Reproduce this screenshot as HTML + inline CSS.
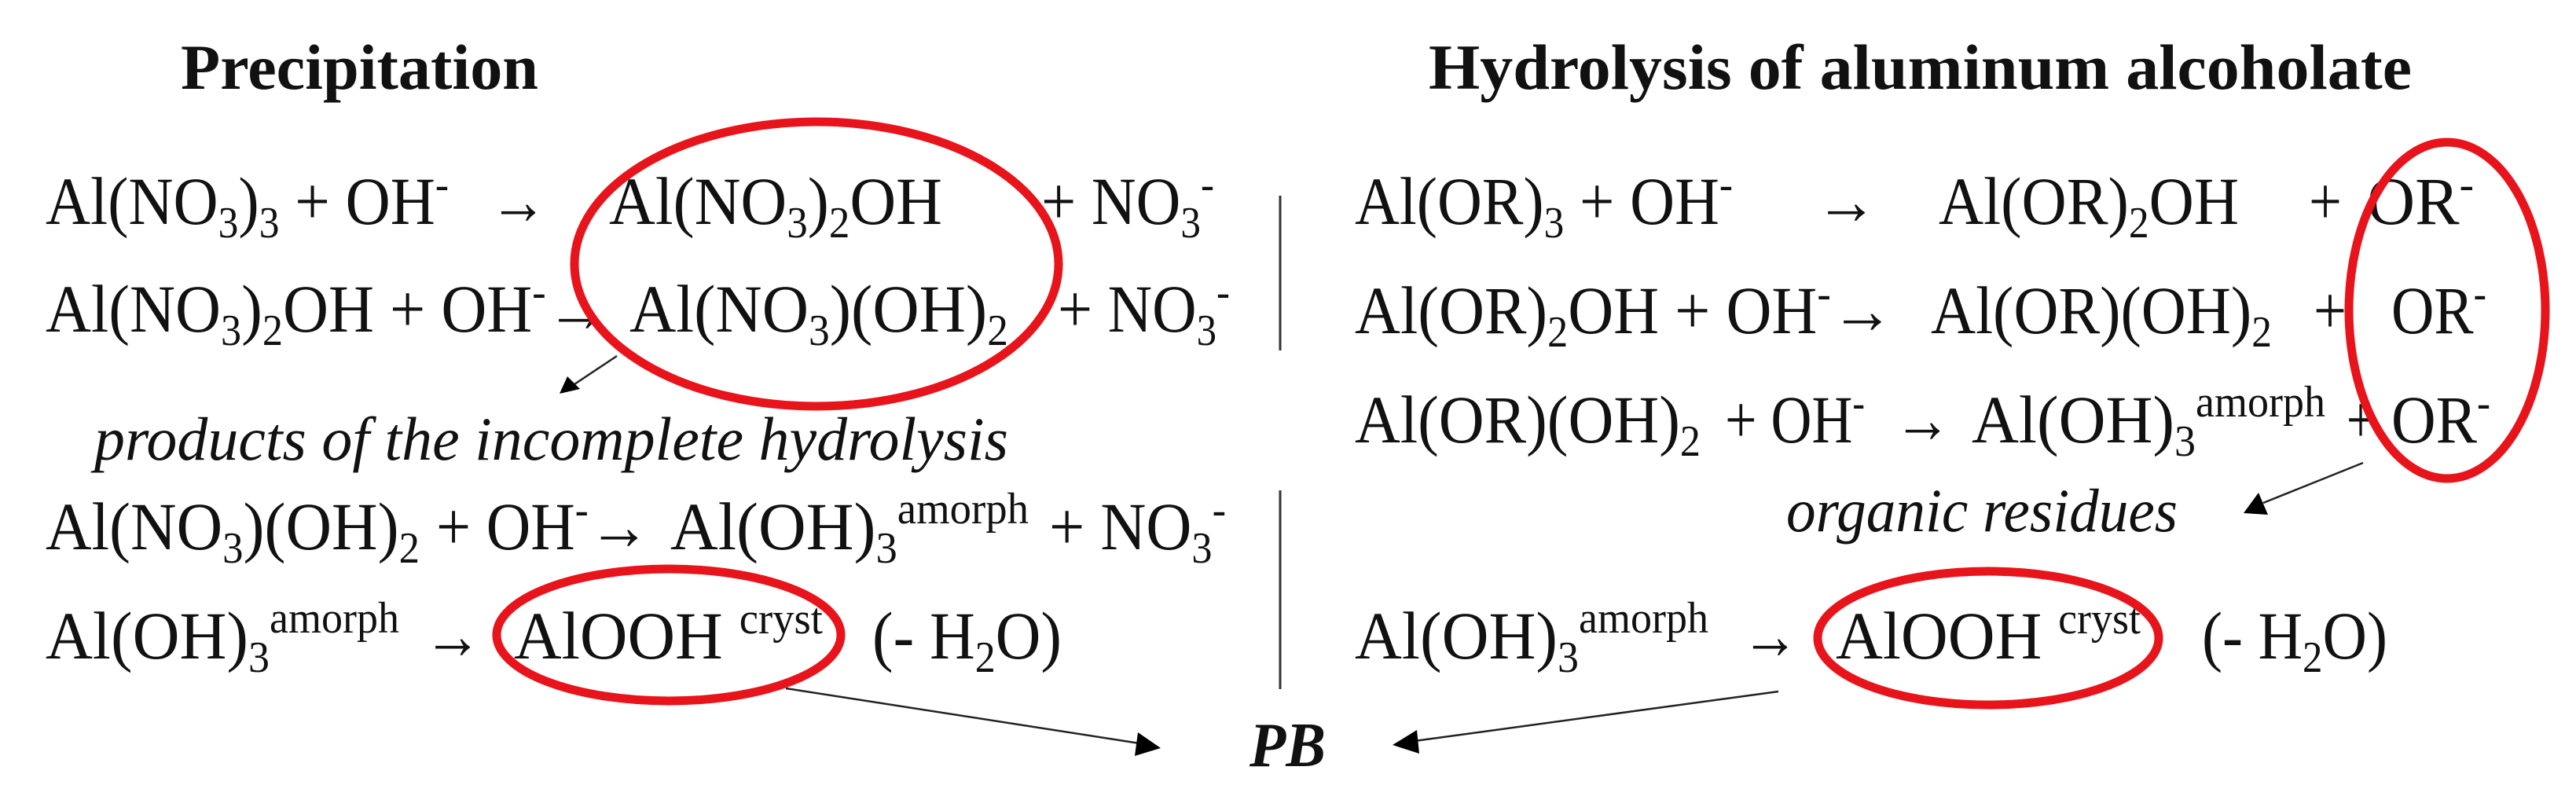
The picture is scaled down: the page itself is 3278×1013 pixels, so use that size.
<!DOCTYPE html>
<html><head><meta charset="utf-8"><style>
html,body{margin:0;padding:0;background:#fff;}
svg{display:block;}
text{font-family:"Liberation Serif",serif;font-size:86px;fill:#111;}
.b{font-weight:bold;font-size:82px;}
.i{font-style:italic;font-size:78px;}
.s{font-size:56px;}
</style></head><body>
<svg width="3278" height="1013" viewBox="0 0 3278 1013" xmlns="http://www.w3.org/2000/svg">
<!-- titles -->
<text class="b" x="230" y="113" textLength="455" lengthAdjust="spacingAndGlyphs">Precipitation</text>
<text class="b" x="1818" y="113" textLength="1251" lengthAdjust="spacingAndGlyphs">Hydrolysis of aluminum alcoholate</text>

<!-- left rows -->
<text x="58" y="285" textLength="513" lengthAdjust="spacingAndGlyphs">Al(NO<tspan class="s" dy="17">3</tspan><tspan dy="-17">)</tspan><tspan class="s" dy="17">3</tspan><tspan dy="-17"> + OH</tspan><tspan class="s" dy="-32">-</tspan></text>
<text x="623" y="285" textLength="73" lengthAdjust="spacingAndGlyphs">→</text>
<text x="775" y="285" textLength="424" lengthAdjust="spacingAndGlyphs">Al(NO<tspan class="s" dy="17">3</tspan><tspan dy="-17">)</tspan><tspan class="s" dy="17">2</tspan><tspan dy="-17">OH</tspan></text>
<text x="1325" y="285" textLength="220" lengthAdjust="spacingAndGlyphs">+ NO<tspan class="s" dy="17">3</tspan><tspan class="s" dy="-49">-</tspan></text>

<text x="58" y="422" textLength="717" lengthAdjust="spacingAndGlyphs">Al(NO<tspan class="s" dy="17">3</tspan><tspan dy="-17">)</tspan><tspan class="s" dy="17">2</tspan><tspan dy="-17">OH + OH</tspan><tspan class="s" dy="-32">-</tspan><tspan dy="32">→</tspan></text>
<text x="801" y="422" textLength="482" lengthAdjust="spacingAndGlyphs">Al(NO<tspan class="s" dy="17">3</tspan><tspan dy="-17">)(OH)</tspan><tspan class="s" dy="17">2</tspan></text>
<text x="1346" y="422" textLength="219" lengthAdjust="spacingAndGlyphs">+ NO<tspan class="s" dy="17">3</tspan><tspan class="s" dy="-49">-</tspan></text>

<text class="i" x="120" y="585" textLength="1163" lengthAdjust="spacingAndGlyphs">products of the incomplete hydrolysis</text>

<text x="58" y="699" textLength="476" lengthAdjust="spacingAndGlyphs">Al(NO<tspan class="s" dy="17">3</tspan><tspan dy="-17">)(OH)</tspan><tspan class="s" dy="17">2</tspan></text>
<text x="555" y="699" textLength="272" lengthAdjust="spacingAndGlyphs">+ OH<tspan class="s" dy="-32">-</tspan><tspan dy="32">→</tspan></text>
<text x="853" y="699" textLength="456" lengthAdjust="spacingAndGlyphs">Al(OH)<tspan class="s" dy="17">3</tspan><tspan class="s" dy="-50">amorph</tspan></text>
<text x="1335" y="699" textLength="225" lengthAdjust="spacingAndGlyphs">+ NO<tspan class="s" dy="17">3</tspan><tspan class="s" dy="-49">-</tspan></text>

<text x="58" y="838" textLength="450" lengthAdjust="spacingAndGlyphs">Al(OH)<tspan class="s" dy="17">3</tspan><tspan class="s" dy="-50">amorph</tspan></text>
<text x="539" y="838" textLength="74" lengthAdjust="spacingAndGlyphs">→</text>
<text x="654" y="838" textLength="393" lengthAdjust="spacingAndGlyphs">AlOOH <tspan class="s" dy="-32">cryst</tspan></text>
<text x="1110" y="838" textLength="241" lengthAdjust="spacingAndGlyphs">(- H<tspan class="s" dy="17">2</tspan><tspan dy="-17">O)</tspan></text>

<!-- right rows -->
<text x="1724" y="285" textLength="481" lengthAdjust="spacingAndGlyphs">Al(OR)<tspan class="s" dy="17">3</tspan><tspan dy="-17"> + OH</tspan><tspan class="s" dy="-32">-</tspan></text>
<text x="2310" y="285" textLength="79" lengthAdjust="spacingAndGlyphs">→</text>
<text x="2467" y="285" textLength="382" lengthAdjust="spacingAndGlyphs">Al(OR)<tspan class="s" dy="17">2</tspan><tspan dy="-17">OH</tspan></text>
<text x="2938" y="285" textLength="42" lengthAdjust="spacingAndGlyphs">+</text>
<text x="3012" y="285" textLength="136" lengthAdjust="spacingAndGlyphs">OR<tspan class="s" dy="-32">-</tspan></text>

<text x="1724" y="424" textLength="686" lengthAdjust="spacingAndGlyphs">Al(OR)<tspan class="s" dy="17">2</tspan><tspan dy="-17">OH + OH</tspan><tspan class="s" dy="-32">-</tspan><tspan dy="32">→</tspan></text>
<text x="2457" y="424" textLength="434" lengthAdjust="spacingAndGlyphs">Al(OR)(OH)<tspan class="s" dy="17">2</tspan></text>
<text x="2944" y="424" textLength="42" lengthAdjust="spacingAndGlyphs">+</text>
<text x="3043" y="424" textLength="121" lengthAdjust="spacingAndGlyphs">OR<tspan class="s" dy="-32">-</tspan></text>

<text x="1724" y="563" textLength="440" lengthAdjust="spacingAndGlyphs">Al(OR)(OH)<tspan class="s" dy="17">2</tspan></text>
<text x="2195" y="563" textLength="178" lengthAdjust="spacingAndGlyphs">+ OH<tspan class="s" dy="-32">-</tspan></text>
<text x="2410" y="563" textLength="73" lengthAdjust="spacingAndGlyphs">→</text>
<text x="2509" y="563" textLength="450" lengthAdjust="spacingAndGlyphs">Al(OH)<tspan class="s" dy="17">3</tspan><tspan class="s" dy="-50">amorph</tspan></text>
<text x="2986" y="563" textLength="36" lengthAdjust="spacingAndGlyphs">+</text>
<text x="3043" y="563" textLength="126" lengthAdjust="spacingAndGlyphs">OR<tspan class="s" dy="-32">-</tspan></text>

<text class="i" x="2273" y="676" textLength="498" lengthAdjust="spacingAndGlyphs">organic residues</text>

<text x="1724" y="838" textLength="450" lengthAdjust="spacingAndGlyphs">Al(OH)<tspan class="s" dy="17">3</tspan><tspan class="s" dy="-50">amorph</tspan></text>
<text x="2216" y="838" textLength="73" lengthAdjust="spacingAndGlyphs">→</text>
<text x="2336" y="838" textLength="388" lengthAdjust="spacingAndGlyphs">AlOOH <tspan class="s" dy="-32">cryst</tspan></text>
<text x="2802" y="838" textLength="236" lengthAdjust="spacingAndGlyphs">(- H<tspan class="s" dy="17">2</tspan><tspan dy="-17">O)</tspan></text>

<!-- PB -->
<text x="1590" y="975" style="font-style:italic;font-weight:bold;font-size:80px" textLength="97" lengthAdjust="spacingAndGlyphs">PB</text>

<!-- dividers -->
<line x1="1629" y1="249" x2="1629" y2="446" stroke="#333" stroke-width="3"/>
<line x1="1629" y1="624" x2="1629" y2="877" stroke="#333" stroke-width="3"/>

<!-- ellipses -->
<g fill="none" stroke="#e8141b" stroke-width="11">
<ellipse cx="1039" cy="336" rx="308" ry="181"/>
<ellipse cx="851" cy="808" rx="219" ry="84"/>
<ellipse cx="3114" cy="395" rx="125" ry="214"/>
<ellipse cx="2530" cy="812" rx="217" ry="85"/>
</g>

<!-- arrows -->
<g stroke="#222" stroke-width="2.5">
<line x1="785" y1="453" x2="728" y2="491"/>
<line x1="1000" y1="876" x2="1450" y2="946"/>
<line x1="3007" y1="589" x2="2880" y2="640"/>
<line x1="2263" y1="880" x2="1800" y2="943"/>
</g>
<g fill="#000">
<polygon points="712,501 722,479 738,495"/>
<polygon points="1477,952 1444,962 1448,932"/>
<polygon points="2855,653 2874,627 2886,655"/>
<polygon points="1772,948 1803,929 1806,959"/>
</g>
</svg>
</body></html>
